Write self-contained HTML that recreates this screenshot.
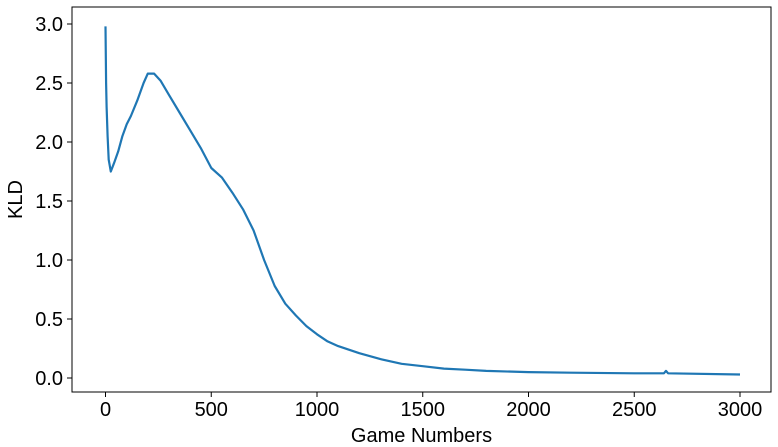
<!DOCTYPE html>
<html><head><meta charset="utf-8"><style>
body{margin:0;background:#fff;}
svg{display:block;font-family:"Liberation Sans",sans-serif;}
</style></head><body>
<svg id="chart" width="778" height="447"></svg>
<script>
const xValues=[0,3,5,10,15,25,40,60,80,100,120,150,180,200,230,260,300,350,400,450,500,550,600,650,700,750,800,850,900,950,1000,1050,1100,1200,1300,1400,1500,1600,1700,1800,2000,2200,2500,2640,2650,2660,3000];
const kldValues=[2.98,2.5,2.3,2.05,1.85,1.75,1.82,1.92,2.05,2.15,2.22,2.35,2.5,2.58,2.58,2.52,2.4,2.25,2.1,1.95,1.78,1.7,1.57,1.43,1.25,1.0,0.78,0.63,0.53,0.44,0.37,0.31,0.27,0.21,0.16,0.12,0.1,0.08,0.07,0.06,0.05,0.045,0.04,0.04,0.06,0.04,0.03];
const xTicks=[0,500,1000,1500,2000,2500,3000];
const yTicks=[0.0,0.5,1.0,1.5,2.0,2.5,3.0];
const NS='http://www.w3.org/2000/svg';
const svg=document.getElementById('chart');
const L=72,R=771,T=7,B=392;
const sx=v=>105.5+v*(740-105.5)/3000;
const sy=v=>378-v*118;
function mk(t,a){const e=document.createElementNS(NS,t);for(const k in a)e.setAttribute(k,a[k]);svg.appendChild(e);return e;}
const frame=mk('rect',{x:L,y:T,width:R-L,height:B-T,fill:'none',stroke:'#000','stroke-width':1});


xTicks.forEach(v=>{
 const tk=mk('line',{x1:sx(v),x2:sx(v),y1:B,y2:B+5,stroke:'#000'});
 
 
 const t=mk('text',{x:sx(v),y:B+24,'text-anchor':'middle','font-size':20});
 t.textContent=v;
 
 
});
yTicks.forEach(v=>{
 const tk=mk('line',{x1:L-5,x2:L,y1:sy(v),y2:sy(v),stroke:'#000'});
 
 
 const t=mk('text',{x:L-9,y:sy(v)+7,'text-anchor':'end','font-size':20});
 t.textContent=v.toFixed(1);
 
 
});
const xt=mk('text',{x:(L+R)/2,y:442,'text-anchor':'middle','font-size':20});
xt.textContent='Game Numbers';


const yt=mk('text',{x:22,y:(T+B)/2,'text-anchor':'middle','font-size':20,transform:`rotate(-90 22 ${(T+B)/2})`});
yt.textContent='KLD';


const d=xValues.map((x,i)=>(i?'L':'M')+sx(x).toFixed(1)+' '+sy(kldValues[i]).toFixed(1)).join(' ');
const p=mk('path',{d:d,fill:'none',stroke:'#1f77b4','stroke-width':2.2,'stroke-linejoin':'round'});


</script>
</body></html>
